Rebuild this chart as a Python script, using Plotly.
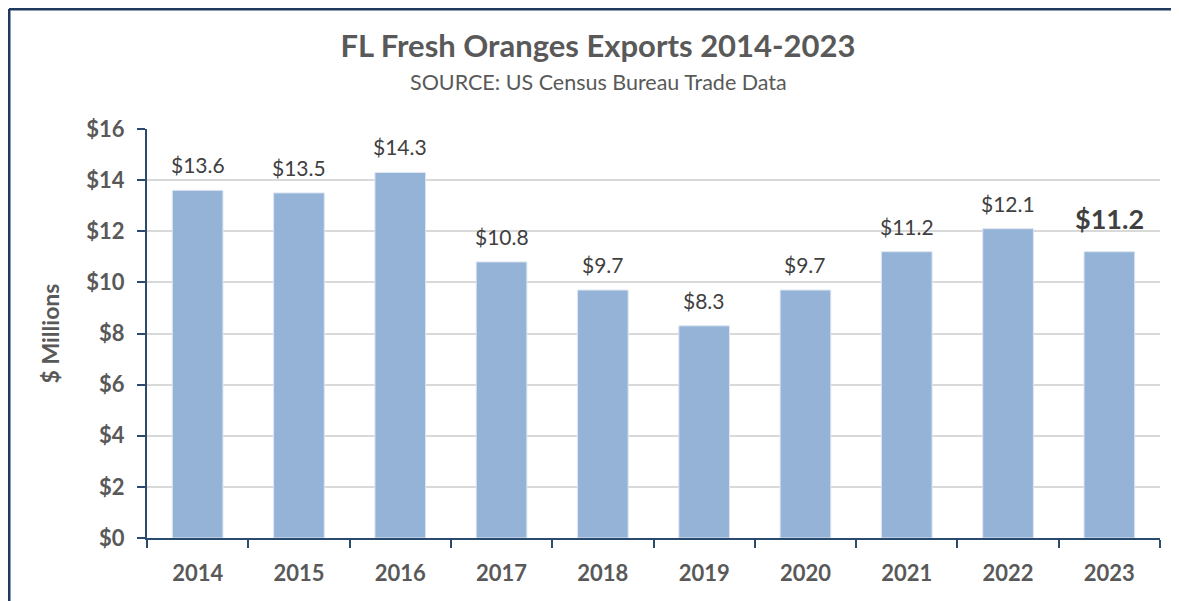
import plotly.graph_objects as go

# Florida fresh orange exports, $ millions
years = ["2014", "2015", "2016", "2017", "2018", "2019", "2020", "2021", "2022", "2023"]
exports = [13.6, 13.5, 14.3, 10.8, 9.7, 8.3, 9.7, 11.2, 12.1, 11.2]
y_ticks = [0, 2, 4, 6, 8, 10, 12, 14, 16]

FONT = "Lato"
GREY = "#595959"
NAVY = "#2A4A6E"

# page body has an 8px margin, so the figure is sized to fill the rest
W, H = 1171, 593
PLOT_L, PLOT_R, PLOT_T, PLOT_B = 139, 1152, 121, 530
PW, PH = PLOT_R - PLOT_L, PLOT_B - PLOT_T
CENTER_X = 590  # headings are centred on the whole chart, not the plot area

fig = go.Figure(go.Bar(
    x=years,
    y=exports,
    marker=dict(color="#95B3D7", line=dict(color="#DCE6F2", width=1)),
    hoverinfo="x+y",
))

# value labels sit a bit above each bar; the latest year is emphasised.
# numeric-looking category names get read as indices, so use the index
for i, v in enumerate(exports):
    last = i == len(exports) - 1
    fig.add_annotation(
        x=i, y=v,
        text=f"<b>${v:.1f}</b>" if last else f"${v:.1f}",
        showarrow=False,
        yanchor="bottom",
        yshift=15 if last else 11,
        font=dict(family=FONT, size=27 if last else 21, color="#404040"),
    )

fig.update_layout(
    width=W,
    height=H,
    margin=dict(l=PLOT_L, r=W - PLOT_R, t=PLOT_T, b=H - PLOT_B),
    paper_bgcolor="white",
    plot_bgcolor="white",
    bargap=0.5,
    showlegend=False,
    font=dict(family=FONT, color=GREY),
    title=dict(
        text="<b>FL Fresh Oranges Exports 2014-2023</b>",
        font=dict(family=FONT, size=31, color=GREY),
        x=CENTER_X / W, xref="container", xanchor="center",
        y=1 - 38 / H, yanchor="middle",
    ),
)

fig.add_annotation(
    text="SOURCE: US Census Bureau Trade Data",
    xref="paper", yref="paper",
    x=(CENTER_X - PLOT_L) / PW, y=(PLOT_B - 74) / PH, yanchor="middle",
    showarrow=False,
    font=dict(family=FONT, size=21.5, color=GREY),
)

fig.update_yaxes(
    range=[0, 16],
    tickmode="array",
    tickvals=y_ticks,
    ticktext=[f"${t}" for t in y_ticks],
    tickfont=dict(family=FONT, size=22, color=GREY, weight="bold"),
    showgrid=True, gridcolor="#D9D9D9", gridwidth=1.5,
    showline=True, linecolor=NAVY, linewidth=2,
    ticks="outside", ticklen=8, tickcolor=NAVY, tickwidth=2,
    ticklabelstandoff=8,
    zeroline=False,
    automargin=False,
    title=dict(text="<b>$ Millions</b>", font=dict(family=FONT, size=23, color=GREY), standoff=20),
)

fig.update_xaxes(
    type="category",
    range=[-0.5, len(years) - 0.5],
    tickangle=0,
    tickfont=dict(family=FONT, size=22, color=GREY, weight="bold"),
    showline=True, linecolor=NAVY, linewidth=2,
    ticks="outside", ticklen=8, tickcolor=NAVY, tickwidth=2,
    tickson="boundaries",
    ticklabelstandoff=15,
    showgrid=False,
    automargin=False,
)

# outer frame (only top and left edges fall inside the crop)
fx0 = (1 - PLOT_L) / PW
fy_top = (PLOT_B - 1) / PH
fig.add_shape(type="line", xref="paper", yref="paper",
              x0=fx0, x1=(W - PLOT_L) / PW, y0=fy_top, y1=fy_top,
              line=dict(color="#1F3A5F", width=3))
fig.add_shape(type="line", xref="paper", yref="paper",
              x0=fx0, x1=fx0, y0=fy_top, y1=(PLOT_B - H) / PH,
              line=dict(color="#1F3A5F", width=3))

fig.write_html("out.html")
